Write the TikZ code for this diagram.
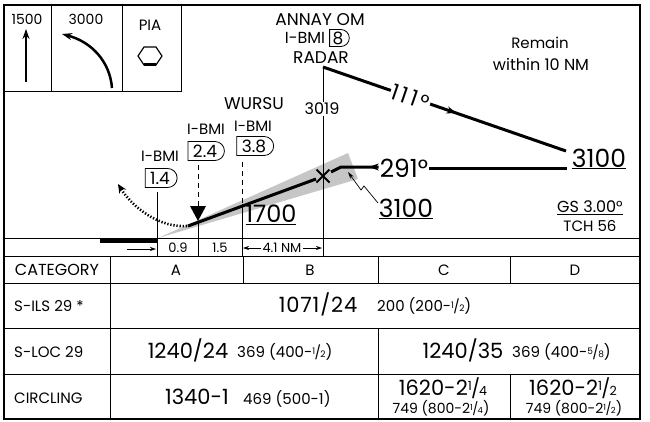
\documentclass[tikz,border=0pt]{standalone}
\usepackage{fontspec}
\setmainfont{Poppins}
\usepackage{graphicx}
\usetikzlibrary{arrows.meta,shapes.misc,decorations.markings}
\newcommand\fsz[1]{\fontsize{#1}{#1}\selectfont}
\newcommand\frc[2]{\raisebox{.4ex}{\scalebox{.6}{#1}}\kern-.04em\scalebox{.9}{/}\kern-.04em\scalebox{.6}{#2}}
\tikzset{
    lbl/.style = {inner sep=1pt, font=\fsz{15}},
    bignum/.style = {inner sep=1pt, font=\fsz{25}},
    cellbig/.style = {inner sep=1pt, font=\fsz{21}},
    cellsmall/.style = {inner sep=1pt, font=\fsz{15}},
    dme/.style = {
        draw, line width=.8pt, rounded rectangle, rounded rectangle west arc=none,
        minimum height=19pt, inner xsep=5pt, inner ysep=1pt, font=\fsz{17}
    },
    course/.style = {line width=3pt},
    coursearrow/.style = {
        course, postaction=decorate,
        decoration={markings, mark=at position #1 with {\arrow{Stealth[length=10pt,width=7pt]}}}
    },
    tabline/.style = {line width=1pt},
    chartframe/.style = {line width=2.5pt}
}

\begin{document}
\begin{tikzpicture}[x=1pt,y=-1pt]
    \useasboundingbox (0,0) rectangle (650,421);
    % briefing boxes
    \draw[tabline] (4,91) -- (181,91) -- (181,5);
    \draw[tabline] (51,5) -- (51,91) (122,5) -- (122,91);
    \node[lbl, font=\fsz{14}] (alt1500) at (27,19) {1500};
    \node[lbl, font=\fsz{14}] (alt3000) at (86,19) {3000};
    \node[lbl] (pia) at (150,25) {PIA};
    \draw[line width=2.5pt, -{Stealth[length=10pt,width=7pt]}] (26,82) -- (26,29);
    \draw[line width=2.5pt, -{Stealth[length=10pt,width=7pt]}] (112,88) .. controls (110,62) and (92,42) .. (62,34);
    \draw[line width=1.2pt] (144,47) -- (156,47) -- (162,56) -- (156,65) -- (144,65) -- (138,56) -- cycle;
    \draw[line width=3pt] (144,64) -- (156,64);

    % profile
    \fill[gray!45] (158,238) -- (348,153) -- (358,179) -- cycle;
    \node[lbl, font=\fsz{17}] (annay) at (320,20) {ANNAY OM};
    \node[lbl, font=\fsz{16}] (annaybmi) at (305,38) {I-BMI};
    \node[dme, minimum height=17pt, inner xsep=3pt] (dme8) at (338,38) {8};
    \node[lbl, font=\fsz{17}] (radar) at (321,58) {RADAR};
    \coordinate (om) at (323,67);
    \draw[tabline] (om) -- (323,256);
    \node[lbl, fill=white, font=\fsz{16}] (alt3019) at (322,109) {3019};
    \node[lbl] (remain) at (540,43) {Remain};
    \node[lbl, font=\fsz{16}] (within) at (541,64) {within 10 NM};

    \node[bignum] (alt3100a) at (599,159) {\underline{3100}};
    \coordinate (turn) at (566,151);
    \draw[coursearrow=0.55] (om) -- node[pos=0.36, sloped, fill=white, inner sep=1pt, font=\fsz{22}\addfontfeature{LetterSpace=14}] (crs111) {111°} (turn);
    \node[bignum] (crs291) at (404,168) {291°};
    \draw[course] (crs291.east |- 0,168) -- (567,168);
    \node[draw, cross out, line width=2pt, minimum size=11pt, inner sep=0pt] (faf) at (323,176) {};
    \draw[coursearrow=0.2] (crs291.west |- 0,167) -- (341,167) -- (331,172);
    \node[bignum] (alt3100b) at (406,209) {\underline{3100}};
    \draw[line width=.7pt, -{Stealth[length=7pt,width=4pt]}] (378,203) -- (364,186) -- (361,190) -- (348,172);
    \node[bignum, font=\fsz{24}] (alt1700) at (271,215) {\underline{1700}};
    \node[lbl, font=\fsz{16}] (gs) at (590,208) {\underline{GS 3.00°}};
    \node[lbl] (tch) at (590,226) {TCH 56};

    % glide path and missed approach
    \draw[course] (188,226) -- (316,179);
    \draw[line width=2.6pt, dash pattern=on 1.3pt off 1.8pt, -{Stealth[length=9pt,width=8pt]}]
        (187,226) .. controls (160,228) and (133,208) .. (118,184);

    % fixes
    \node[lbl] (bmi14) at (160,156) {I-BMI};
    \node[dme] (dme14) at (160,178) {1.4};
    \node[lbl] (bmi24) at (206,129) {I-BMI};
    \node[dme] (dme24) at (205,151) {2.4};
    \node[lbl, font=\fsz{17}] (wursu) at (254,104) {WURSU};
    \node[lbl] (bmi38) at (253,126) {I-BMI};
    \node[dme] (dme38) at (254,146) {3.8};
    \draw[tabline] (157,192) -- (157,256);
    \draw[tabline, dash pattern=on 5pt off 4pt] (198,165) -- (198,207);
    \fill (190,206) -- (206,206) -- (198,221) -- cycle;
    \draw[tabline] (198,221) -- (198,256);
    \draw[tabline, dash pattern=on 5pt off 4pt] (242,162) -- (242,204);
    \draw[tabline] (242,204) -- (242,256);

    % distances
    \draw[tabline] (4,238) -- (640,238);
    \fill (100,238) rectangle (157,243);
    \draw[line width=.7pt, -{Stealth[length=6pt,width=4pt]}] (127,249) -- (156,249);
    \node[lbl, font=\fsz{13}] (d09) at (178,248) {0.9};
    \node[lbl, font=\fsz{13}] (d15) at (220,248) {1.5};
    \node[lbl, font=\fsz{13}] (d41) at (282,248) {4.1 NM};
    \draw[line width=.7pt, -{Stealth[length=6pt,width=4pt]}] (d41.west) -- (243,248);
    \draw[line width=.7pt, -{Stealth[length=6pt,width=4pt]}] (d41.east) -- (322,248);

    % minimums table
    \foreach \y in {256,283,328,374}
        \draw[tabline] (4,\y) -- (640,\y);
    \draw[tabline] (110,256) -- (110,419);
    \draw[tabline] (243,256) -- (243,283);
    \draw[tabline] (378,256) -- (378,283) (378,328) -- (378,419);
    \draw[tabline] (510,256) -- (510,283) (510,374) -- (510,419);
    \node[lbl, font=\fsz{16}] (cat) at (57,270) {CATEGORY};
    \node[lbl] (catA) at (176,270) {A};
    \node[lbl] (catB) at (310,270) {B};
    \node[lbl] (catC) at (444,270) {C};
    \node[lbl] (catD) at (575,270) {D};
    \node[lbl, anchor=west] (ils) at (13,306) {S-ILS 29 *};
    \node[lbl, anchor=west] (loc) at (13,352) {S-LOC 29};
    \node[lbl, anchor=west] (circ) at (13,398) {CIRCLING};
    \node[cellbig, font=\fsz{21}\addfontfeature{LetterSpace=4}] (ilsmda) at (318,304) {1071/24};
    \node[cellsmall, anchor=west] (ilshat) at (376,306) {200 (200-\frc{1}{2})};
    \node[cellbig] (locab) at (188,350) {1240/24};
    \node[cellsmall, anchor=west] (locabhat) at (236,352) {369 (400-\frc{1}{2})};
    \node[cellbig] (loccd) at (463,350) {1240/35};
    \node[cellsmall, anchor=west] (loccdhat) at (511,352) {369 (400-\frc{5}{8})};
    \node[cellbig] (circab) at (197,397) {1340-1};
    \node[cellsmall, anchor=west] (circabhat) at (242,399) {469 (500-1)};
    \node[cellbig] (circc) at (443,388) {1620-2\frc{1}{4}};
    \node[cellsmall, font=\fsz{14}] (circchat) at (441,408) {749 (800-2\frc{1}{4})};
    \node[cellbig] (circd) at (573,388) {1620-2\frc{1}{2}};
    \node[cellsmall, font=\fsz{14}] (circdhat) at (574,408) {749 (800-2\frc{1}{2})};

    % frame
    \draw[chartframe] (4,5) rectangle (640,419);
\end{tikzpicture}
\end{document}
